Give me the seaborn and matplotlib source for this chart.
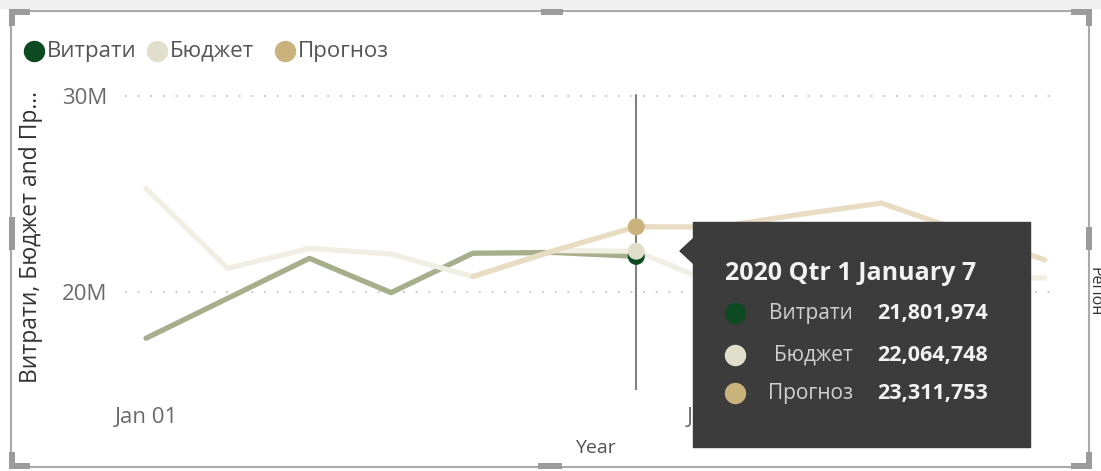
import pandas as pd
import numpy as np
import seaborn as sns
import matplotlib.pyplot as plt
from matplotlib.patches import Rectangle, Polygon
from matplotlib.lines import Line2D

W, H = 1101, 471

# values in millions, one point per day
dates = pd.to_datetime(["2020-01-01", "2020-01-02", "2020-01-03", "2020-01-04",
                        "2020-01-05", "2020-01-06", "2020-01-07", "2020-01-08",
                        "2020-01-09", "2020-01-10", "2020-01-11", "2020-01-12"])
vytraty = [17.62, 19.66, 21.70, 19.95, 21.96, 22.00, 21.801974,
           np.nan, np.nan, np.nan, np.nan, np.nan]
biudzhet = [25.27, 21.19, 22.21, 21.92, 20.77, 22.10, 22.064748,
            20.35, 20.60, 20.80, 20.70, 20.70]
prohnoz = [np.nan, np.nan, np.nan, np.nan, 20.77, 22.10, 23.311753,
           23.30, 23.94, 24.52, 23.08, 21.62]
series = ["Витрати", "Бюджет", "Прогноз"]
hover_idx = 6
tooltip_title = "2020 Qtr 1 January 7"
y_ticks = [20, 30]
y_ticklabels = ["20M", "30M"]
x_tick_idx = [0, 7]
x_ticklabels = ["Jan 01", "Jan 08"]

marker_colors = {"Витрати": "#0d4a22", "Бюджет": "#e1dfcb", "Прогноз": "#c9b27c"}
line_colors = {"Витрати": "#a7ae8c", "Бюджет": "#f1efe4", "Прогноз": "#e8dcc2"}

df = pd.DataFrame({"date": dates, "Витрати": vytraty, "Бюджет": biudzhet, "Прогноз": prohnoz})
long = df.melt(id_vars="date", var_name="series", value_name="value").dropna()
hover = long[long["date"] == dates[hover_idx]]

sns.set_style("white")
plt.rcParams["font.family"] = ["Open Sans", "DejaVu Sans"]


def fx(x):
    return x / W


def fy(y):
    return 1 - y / H


fig = plt.figure(figsize=(W / 100, H / 100), dpi=100)
fig.patch.set_facecolor("white")

# plot area in pixels: left 125, right 1057, top 93, bottom 390
ax = fig.add_axes([fx(125), fy(390), (1057 - 125) / W, (390 - 93) / H])
ax.set_facecolor("none")

sns.lineplot(data=long, x="date", y="value", hue="series", hue_order=series,
             palette=line_colors, estimator=None, linewidth=3.8, legend=False,
             solid_capstyle="round", solid_joinstyle="round", ax=ax)

ax.axvline(dates[hover_idx], ymin=0, ymax=0.993, color="#808080", lw=1.5, zorder=4)

sns.scatterplot(data=hover, x="date", y="value", hue="series", hue_order=series,
                palette=marker_colors, s=150, edgecolor="none", legend=False,
                zorder=6, ax=ax)

day = pd.Timedelta(days=1)
ax.set_xlim(dates[0] - 0.257 * day, dates[0] + 11.15 * day)
ax.set_ylim(14.98, 30.14)
ax.set_yticks(y_ticks)
ax.set_yticklabels(y_ticklabels)
ax.set_xticks([dates[i] for i in x_tick_idx])
ax.set_xticklabels(x_ticklabels)
ax.grid(axis="y", linestyle=(0, (1, 6)), color="#c4c4c4", linewidth=1.3)
ax.grid(axis="x", visible=False)
ax.tick_params(axis="both", length=0, labelsize=16, colors="#6a6a6a")
ax.tick_params(axis="y", pad=13)
ax.tick_params(axis="x", pad=12)
ax.set_xlabel("")
ax.set_ylabel("")
sns.despine(ax=ax, left=True, bottom=True)

# axis titles
fig.text(fx(595), fy(448), "Year", ha="center", va="center", fontsize=14, color="#505050")
fig.text(fx(31), fy(237), "Витрати, Бюджет and Пр...", rotation=90, ha="center",
         va="center", fontsize=16.5, color="#333333")
fig.text(fx(1094), fy(292), "Регіон", rotation=270, ha="center", va="center",
         fontsize=11.5, color="#333333")

# legend
for name, (cx, tx) in zip(series, [(34, 47), (157, 170), (285, 298)]):
    fig.add_artist(Line2D([fx(cx)], [fy(51)], marker="o", markersize=14.4, ls="none",
                          color=marker_colors[name], transform=fig.transFigure))
    fig.text(fx(tx), fy(51), name, ha="left", va="center", fontsize=16, color="#555555")

# tooltip
fig.add_artist(Rectangle((fx(693), fy(447)), (1030 - 693) / W, (447 - 222) / H,
                         transform=fig.transFigure, color="#3c3c3c", zorder=10))
fig.add_artist(Polygon([(fx(694), fy(238)), (fx(680), fy(251)), (fx(694), fy(264))],
                       closed=True, transform=fig.transFigure, color="#3c3c3c", zorder=10))
fig.text(fx(725), fy(273), tooltip_title, ha="left", va="center", fontsize=18,
         fontweight="bold", color="#f2f2f2", zorder=11)
for name, ry in zip(series, [313, 355, 393]):
    val = df.loc[hover_idx, name] * 1e6
    fig.add_artist(Line2D([fx(735)], [fy(ry)], marker="o", markersize=14.4, ls="none",
                          color=marker_colors[name], transform=fig.transFigure, zorder=11))
    fig.text(fx(853), fy(ry), name, ha="right", va="center", fontsize=15,
             color="#d0d0d0", zorder=11)
    fig.text(fx(877), fy(ry), f"{val:,.0f}", ha="left", va="center", fontsize=15.5,
             fontweight="bold", color="#f2f2f2", zorder=11)

# visual frame of the report canvas
fig.add_artist(Rectangle((0, fy(8)), 1, 8 / H, transform=fig.transFigure,
                         color="#efefef", zorder=1))
fig.add_artist(Rectangle((fx(11), fy(467)), (1089 - 11) / W, (467 - 11) / H,
                         transform=fig.transFigure, fill=False, ec="#a9a9a9", lw=1.5, zorder=12))


def block(x0, y0, x1, y1):
    fig.add_artist(Rectangle((fx(x0), fy(y1)), (x1 - x0) / W, (y1 - y0) / H,
                             transform=fig.transFigure, color="#9b9b9b", lw=0, zorder=13))


# corner handles
block(9, 9, 30, 15); block(9, 9, 15, 26)
block(1071, 9, 1092, 15); block(1086, 9, 1092, 26)
block(9, 463, 30, 469); block(9, 452, 15, 469)
block(1071, 463, 1092, 469); block(1086, 452, 1092, 469)
# mid handles
block(541, 9, 563, 15); block(538, 463, 562, 469)
block(9, 217, 15, 250); block(1086, 227, 1092, 250)

fig.savefig("out.png", dpi=100)
